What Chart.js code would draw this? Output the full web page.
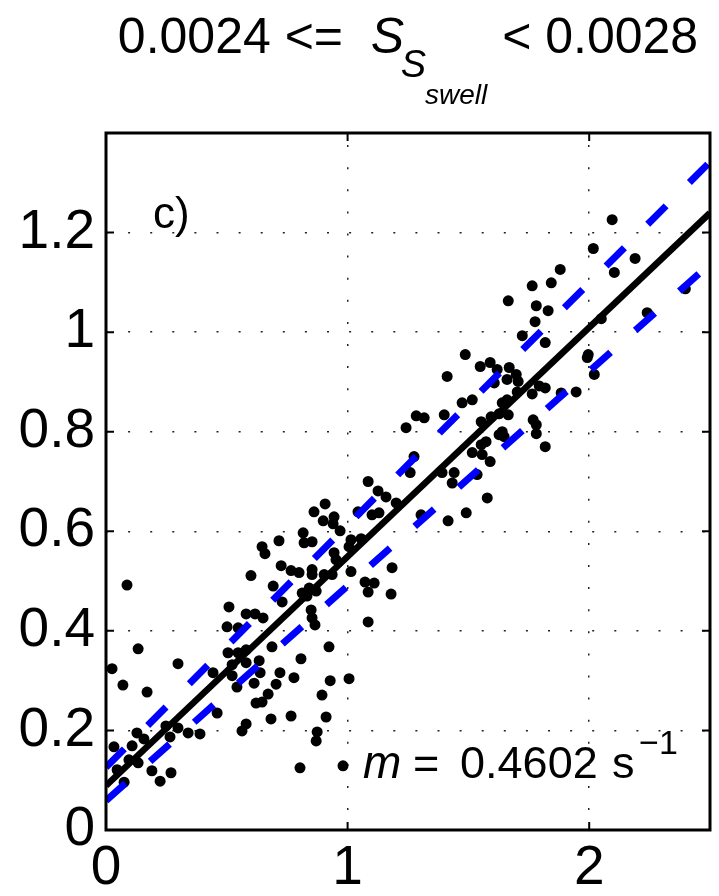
<!DOCTYPE html>
<html lang="en">
<head>
    <meta charset="UTF-8">
    <title>Swell steepness bin 0.0024 - 0.0028</title>
    <script src="https://cdn.jsdelivr.net/npm/chart.js@4.4.1/dist/chart.umd.min.js"></script>
    <style>
        * { margin: 0; padding: 0; box-sizing: border-box; }
        body { background: #ffffff; width: 719px; height: 896px; overflow: hidden; }
        .chart-wrapper { position: relative; width: 719px; height: 896px; }
    </style>
</head>
<body>
    <div class="chart-wrapper">
        <canvas id="swellChart"></canvas>
    </div>

    <script>
        // observed points (x, y)
        const obsX = [
            0.025, 0.070, 0.087, 0.133, 0.170, 0.298, 0.033, 0.046, 0.075, 0.095, 0.108, 0.128, 0.133, 0.157,
            0.190, 0.224, 0.269, 0.248, 0.265, 0.298, 0.340, 0.389,
            0.443, 0.460, 0.509, 0.501, 0.547, 0.580, 0.617, 0.650, 0.600, 0.505, 0.547, 0.522, 0.522, 0.580,
            0.580, 0.542, 0.613, 0.634, 0.638, 0.687, 0.720, 0.704, 0.671, 0.646, 0.621, 0.778, 0.807, 0.766,
            0.683, 0.580, 0.563, 0.803, 0.725, 0.766, 0.799, 0.692, 0.729, 0.853, 0.812, 0.841, 0.870, 0.849,
            0.853, 0.865, 0.646, 0.658, 0.716,
            0.894, 0.911, 0.874, 0.870, 0.923, 0.928, 0.981, 1.006, 1.085, 1.085, 1.126, 1.159, 1.201, 1.259,
            0.907, 0.861, 0.899, 0.944, 0.940, 0.969, 0.816, 0.820, 0.853, 1.043, 1.101, 1.130, 1.304, 1.014,
            1.056, 1.006, 0.944, 0.952, 0.853, 0.903, 0.936, 1.014, 1.184, 1.072, 1.110, 1.085, 1.180, 0.832,
            1.242, 1.284, 1.317, 1.400, 1.412, 1.487, 1.549, 1.590, 1.619, 1.669, 1.698, 1.660, 1.706, 1.607,
            1.818, 1.793, 1.818, 1.764, 1.702, 1.884, 1.946, 1.474, 1.516, 1.640, 1.660, 1.553, 1.594, 1.627,
            1.665, 1.768, 1.781, 1.640, 1.627, 1.648, 1.781, 1.818, 1.553, 1.573, 1.557, 1.516, 1.590, 1.391,
            1.441, 1.536, 1.433, 1.578, 1.491, 1.416, 1.275,
            2.095, 2.017, 2.190, 2.104, 1.880, 1.843, 1.764, 1.781, 1.830, 1.665, 1.776, 1.723, 2.050, 2.240,
            2.398, 1.996, 1.992, 2.021
        ];
        const obsY = [
            0.324, 0.291, 0.492, 0.364, 0.277, 0.334, 0.167, 0.121, 0.096, 0.141, 0.169, 0.195, 0.135, 0.183,
            0.119, 0.098, 0.115, 0.209, 0.187, 0.205, 0.195, 0.193,
            0.316, 0.235, 0.448, 0.408, 0.406, 0.434, 0.434, 0.426, 0.511, 0.356, 0.356, 0.332, 0.310, 0.336,
            0.362, 0.287, 0.295, 0.340, 0.316, 0.368, 0.316, 0.293, 0.273, 0.257, 0.255, 0.306, 0.344, 0.229,
            0.223, 0.213, 0.199, 0.125, 0.531, 0.521, 0.517, 0.490, 0.458, 0.523, 0.476, 0.486, 0.480, 0.442,
            0.426, 0.412, 0.569, 0.555, 0.581,
            0.271, 0.227, 0.197, 0.179, 0.368, 0.300, 0.129, 0.304, 0.418, 0.700, 0.681, 0.669, 0.657, 0.718,
            0.655, 0.639, 0.621, 0.629, 0.615, 0.601, 0.597, 0.577, 0.579, 0.639, 0.633, 0.637, 0.633, 0.583,
            0.585, 0.569, 0.557, 0.543, 0.513, 0.513, 0.513, 0.519, 0.527, 0.498, 0.496, 0.478, 0.474, 0.470,
            0.808, 0.832, 0.828, 0.834, 0.911, 0.955, 0.931, 0.939, 0.925, 0.929, 0.915, 0.905, 0.901, 0.898,
            0.979, 0.892, 0.888, 0.876, 0.880, 0.878, 0.880, 0.858, 0.864, 0.858, 0.864, 0.820, 0.830, 0.836,
            0.834, 0.824, 0.814, 0.800, 0.794, 0.790, 0.796, 0.770, 0.774, 0.780, 0.754, 0.758, 0.740, 0.718,
            0.718, 0.714, 0.697, 0.667, 0.637, 0.621, 0.750,
            1.226, 1.168, 1.148, 1.120, 1.126, 1.099, 1.093, 1.053, 1.043, 1.063, 1.021, 0.993, 1.027, 1.039,
            1.087, 0.955, 0.949, 0.915
        ];

        // regression line and bounds, end points at x = 0 and x = 2.5
        const slope = 0.4602;
        const lineX = [0, 2.5];
        const fitY = [0.089, 0.089 + slope * 2.5];
        const upperY = [0.126, 1.342];
        const lowerY = [0.059, 1.137];

        const xTicks = [0, 1, 2];
        const yTicks = [0, 0.2, 0.4, 0.6, 0.8, 1, 1.2];

        const FONT = '"Liberation Sans", Arial, Helvetica, sans-serif';

        function pairs(xs, ys) {
            return xs.map((v, i) => ({ x: v, y: ys[i] }));
        }

        // frame, inward tick marks, panel tag, slope label and the title
        const axesDecor = {
            id: 'axesDecor',
            afterDatasetsDraw(chart) {
                const { ctx, chartArea: a, scales: { x, y } } = chart;
                ctx.save();
                ctx.strokeStyle = '#000';
                ctx.lineWidth = 2;
                ctx.beginPath();
                yTicks.forEach(v => {
                    if (v <= 0) return;
                    const py = y.getPixelForValue(v);
                    ctx.moveTo(a.left, py); ctx.lineTo(a.left + 8, py);
                    ctx.moveTo(a.right, py); ctx.lineTo(a.right - 8, py);
                });
                xTicks.forEach(v => {
                    if (v <= 0) return;
                    const px = x.getPixelForValue(v);
                    ctx.moveTo(px, a.bottom); ctx.lineTo(px, a.bottom - 8);
                    ctx.moveTo(px, a.top); ctx.lineTo(px, a.top + 8);
                });
                ctx.stroke();
                ctx.lineWidth = 3;
                ctx.strokeRect(a.left, a.top, a.right - a.left, a.bottom - a.top);

                ctx.fillStyle = '#000';
                ctx.textBaseline = 'alphabetic';
                ctx.textAlign = 'left';

                // panel tag
                ctx.font = '44px ' + FONT;
                ctx.fillText('c)', x.getPixelForValue(0.195), y.getPixelForValue(1.21));

                // slope label
                const mx = x.getPixelForValue(1.064);
                const my = y.getPixelForValue(0.104);
                ctx.font = 'italic 46px ' + FONT;
                ctx.fillText('m', mx, my);
                ctx.font = '45px ' + FONT;
                ctx.fillText('=', mx + 50, my);
                ctx.fillText('0.4602', mx + 97, my);
                ctx.fillText('s', mx + 249, my);
                ctx.font = '34px ' + FONT;
                ctx.fillText('\u22121', mx + 276, my - 24);
                ctx.restore();
            },
            afterDraw(chart) {
                const { ctx, chartArea: a } = chart;
                ctx.save();
                ctx.fillStyle = '#000';
                ctx.textBaseline = 'alphabetic';
                ctx.textAlign = 'left';
                const base = 53;
                const left = '0.0024 <=  ', right = '< 0.0028';
                ctx.font = '50px ' + FONT;
                const wLeft = ctx.measureText(left).width;
                const wRight = ctx.measureText(right).width;
                ctx.font = 'italic 50px ' + FONT;
                const wS = ctx.measureText('S').width;
                ctx.font = 'italic 38px ' + FONT;
                const wSub = ctx.measureText('S').width;
                ctx.font = 'italic 28px ' + FONT;
                const wSwell = ctx.measureText('swell').width;
                const gap = 15;
                const total = wLeft + wS * 0.9 + wSub * 0.95 + wSwell + gap + wRight;
                let cx = (a.left + a.right) / 2 - total / 2;

                ctx.font = '50px ' + FONT;
                ctx.fillText(left, cx, base);
                cx += wLeft;
                ctx.font = 'italic 50px ' + FONT;
                ctx.fillText('S', cx, base);
                cx += wS * 0.9;
                ctx.font = 'italic 38px ' + FONT;
                ctx.fillText('S', cx, base + 24);
                cx += wSub * 0.95;
                ctx.font = 'italic 28px ' + FONT;
                ctx.fillText('swell', cx, base + 51);
                cx += wSwell + gap;
                ctx.font = '50px ' + FONT;
                ctx.fillText(right, cx, base);
                ctx.restore();
            }
        };

        const lineStyle = {
            type: 'scatter',
            showLine: true,
            pointRadius: 0,
            borderCapStyle: 'butt',
            fill: false
        };

        const config = {
            type: 'scatter',
            data: {
                datasets: [
                    Object.assign({}, lineStyle, {
                        label: 'upper bound',
                        data: pairs(lineX, upperY),
                        borderColor: '#0000ff',
                        borderWidth: 7,
                        borderDash: [26, 33],
                        order: 0
                    }),
                    Object.assign({}, lineStyle, {
                        label: 'lower bound',
                        data: pairs(lineX, lowerY),
                        borderColor: '#0000ff',
                        borderWidth: 7,
                        borderDash: [26, 33],
                        order: 1
                    }),
                    Object.assign({}, lineStyle, {
                        label: 'fit',
                        data: pairs(lineX, fitY),
                        borderColor: '#000000',
                        borderWidth: 6.5,
                        order: 2
                    }),
                    {
                        type: 'scatter',
                        label: 'observations',
                        data: pairs(obsX, obsY),
                        pointRadius: 5.5,
                        pointBackgroundColor: '#000000',
                        pointBorderWidth: 0,
                        clip: false,
                        order: 3
                    }
                ]
            },
            options: {
                responsive: true,
                maintainAspectRatio: false,
                animation: false,
                events: [],
                layout: { padding: { left: 0, right: 9, top: 133, bottom: 0 } },
                plugins: {
                    legend: { display: false },
                    tooltip: { enabled: false }
                },
                scales: {
                    x: {
                        type: 'linear',
                        min: 0,
                        max: 2.5,
                        afterBuildTicks: (scale) => { scale.ticks = xTicks.map(v => ({ value: v })); },
                        afterFit: (scale) => { scale.height = 66; },
                        ticks: {
                            color: '#000',
                            padding: 6,
                            maxRotation: 0,
                            font: { family: FONT, size: 55 },
                            callback: (v) => String(v)
                        },
                        grid: {
                            color: '#222',
                            lineWidth: 1.5,
                            drawTicks: false
                        },
                        border: { display: false, dash: [2, 20.1], dashOffset: 10 }
                    },
                    y: {
                        type: 'linear',
                        min: 0,
                        max: 1.4,
                        afterBuildTicks: (scale) => { scale.ticks = yTicks.map(v => ({ value: v })); },
                        afterFit: (scale) => { scale.width = 106; },
                        ticks: {
                            color: '#000',
                            padding: 11,
                            font: { family: FONT, size: 55 },
                            callback: (v) => String(+v.toFixed(1))
                        },
                        grid: {
                            color: '#222',
                            lineWidth: 1.5,
                            drawTicks: false
                        },
                        border: { display: false, dash: [2, 20.1], dashOffset: 0 }
                    }
                }
            },
            plugins: [axesDecor]
        };

        const ctx = document.getElementById('swellChart').getContext('2d');
        const chart = new Chart(ctx, config);
    </script>
</body>
</html>
